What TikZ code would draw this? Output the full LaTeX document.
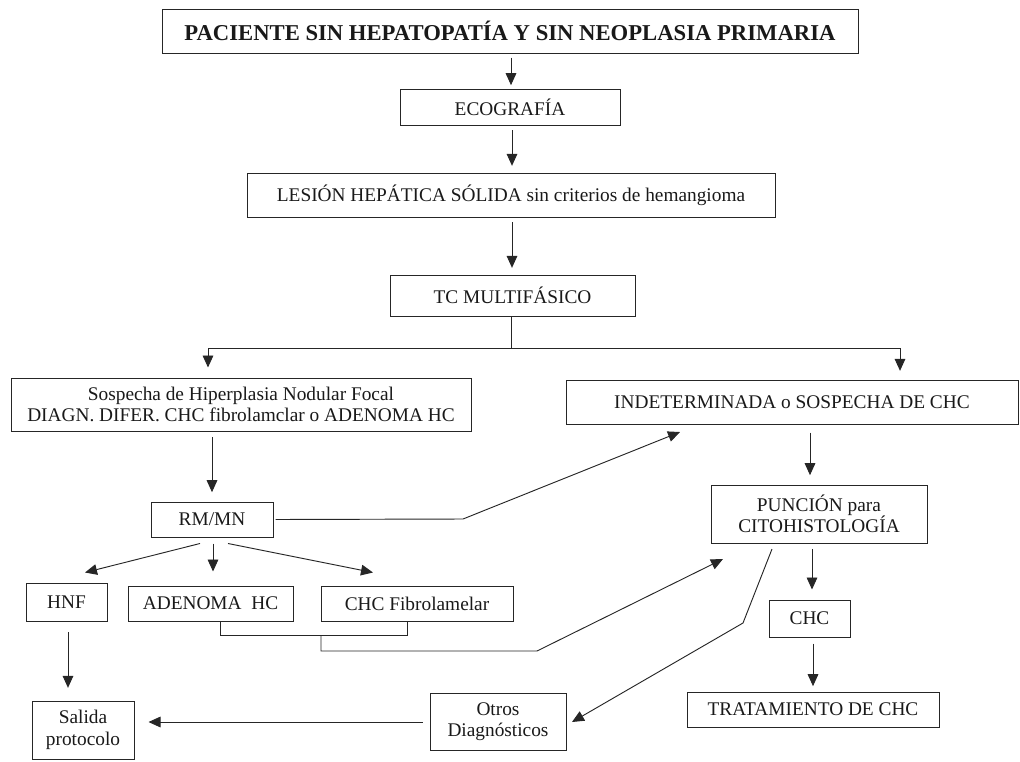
\documentclass[tikz,border=0pt]{standalone}
\usepackage{fontspec}
\setmainfont{Liberation Serif}
\usetikzlibrary{arrows.meta,calc}
\tikzset{
  box/.style={draw=black!85, line width=0.75pt, inner sep=0pt, align=center,
    font=\fontsize{14.5}{16}\selectfont, text=black!90},
  conn/.style={draw=black!85, line width=0.7pt},
  arr/.style={conn, -{Triangle[length=9pt,width=8pt]}},
}
\begin{document}
\begin{tikzpicture}[x=0.75pt,y=-0.75pt]
\useasboundingbox (0,0) rectangle (1020,761);
% nodes
\node[box, minimum width=522pt, minimum height=33pt, font=\fontsize{17}{20}\selectfont\bfseries] (top) at (510,31) {PACIENTE SIN HEPATOPATÍA Y SIN NEOPLASIA PRIMARIA};
\node[box, minimum width=165pt, minimum height=27pt] (eco) at (510,107) {ECOGRAFÍA};
\node[box, minimum width=396pt, minimum height=33pt] (les) at (511,195) {LESIÓN HEPÁTICA SÓLIDA sin criterios de hemangioma};
\node[box, minimum width=183.75pt, minimum height=30.75pt] (tc) at (512.5,295.5) {TC MULTIFÁSICO};
\node[box, minimum width=345pt, minimum height=39.75pt] (sosp) at (241,404.5) {Sospecha de Hiperplasia Nodular Focal\\DIAGN. DIFER. CHC fibrolamclar o ADENOMA HC};
\node[box, minimum width=339pt, minimum height=33pt] (indet) at (792,402) {INDETERMINADA o SOSPECHA DE CHC};
\node[box, minimum width=91.5pt, minimum height=26.25pt] (rm) at (212,519.5) {RM/MN};
\node[box, minimum width=162pt, minimum height=43.5pt] (punc) at (819,514) {PUNCIÓN para\\CITOHISTOLOGÍA};
\node[box, minimum width=60.75pt, minimum height=28.5pt] (hnf) at (66.5,602) {HNF};
\node[box, minimum width=123.75pt, minimum height=26.25pt] (aden) at (210.5,603.5) {ADENOMA\ \ HC};
\node[box, minimum width=144pt, minimum height=26.25pt] (chcf) at (417,603.5) {CHC Fibrolamelar};
\node[box, minimum width=60.75pt, minimum height=27.75pt] (chc) at (809.5,618.5) {CHC};
\node[box, minimum width=189pt, minimum height=26.25pt] (trat) at (813,709.5) {TRATAMIENTO DE CHC};
\node[box, minimum width=102pt, minimum height=42.75pt] (otros) at (498,721.5) {Otros\\Diagnósticos};
\node[box, minimum width=76.5pt, minimum height=43.5pt] (sal) at (83,730) {Salida\\protocolo};
% coordinates
\coordinate (split) at (511,348);
\coordinate (sl) at (208,348);
\coordinate (sr) at (900,348);
\coordinate (rmk) at (463,519);
\coordinate (indin) at (680,432);
\coordinate (b1) at (220,635);
\coordinate (b2) at (407,635);
\coordinate (b3) at (321,635);
\coordinate (b4) at (321,651);
\coordinate (b5) at (537,651);
\coordinate (puncin) at (723,559);
\coordinate (pk1) at (772,549);
\coordinate (pk2) at (743,623);
\coordinate (otin) at (572,722);
% connectors
\draw[arr, shorten <=3pt, shorten >=2.5pt] (top.south -| 511,0) -- (eco.north -| 511,0);
\draw[arr, shorten <=3.5pt, shorten >=5pt] (eco.south -| 512,0) -- (les.north -| 512,0);
\draw[arr, shorten <=3.5pt, shorten >=5pt] (les.south -| 512,0) -- (tc.north -| 512,0);
\draw[conn] (tc.south -| split) -- (split);
\draw[conn] (sl) -- (sr);
\draw[arr, shorten >=7.5pt] (sl) -- (sl |- sosp.north);
\draw[arr, shorten >=6.5pt] (sr) -- (sr |- indet.north);
\draw[arr, shorten <=4pt, shorten >=7pt] (sosp.south -| rm.north) -- (rm.north);
\draw[arr, shorten <=1.5pt] (rm.east) -- (rmk) -- (indin);
\draw[arr, shorten <=6pt, shorten >=7pt] (indet.south -| 810,0) -- (punc.north -| 810,0);
\draw[arr] ($(rm.south)+(-12,6)$) -- ($(hnf.north)+(18.5,-10)$);
\draw[arr] ($(rm.south)+(1,6)$) -- ($(aden.north)+(2.5,-14)$);
\draw[arr] ($(rm.south)+(16,6)$) -- ($(chcf.north)+(-44,-13)$);
\draw[conn] (aden.south -| b1) -- (b1) -- (b2) -- (chcf.south -| b2);
\draw[arr] (b3) -- (b4) -- (b5) -- (puncin);
\draw[arr] (pk1) -- (pk2) -- (otin);
\draw[arr, shorten <=4pt, shorten >=7.5pt] (punc.south -| 812,0) -- (chc.north -| 812,0);
\draw[arr, shorten <=4.5pt, shorten >=4pt] (chc.south -| 813,0) -- (trat.north -| 813,0);
\draw[arr, shorten <=8pt, shorten >=9.5pt] (hnf.south -| 68,0) -- (sal.north -| 68,0);
\draw[arr, shorten <=5pt, shorten >=10.5pt] (otros.west |- otin) -- (sal.east |- otin);
\end{tikzpicture}
\end{document}
